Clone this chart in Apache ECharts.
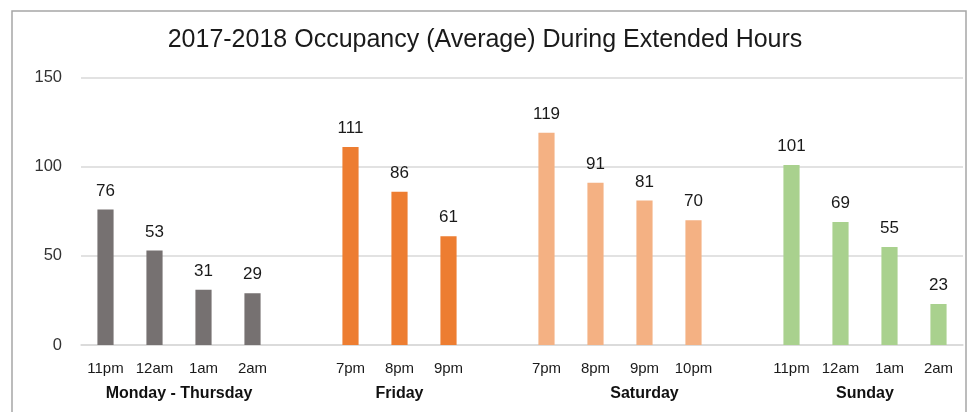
<!DOCTYPE html>
<html>
<head>
<meta charset="utf-8">
<script src="https://cdn.jsdelivr.net/npm/echarts@6/dist/echarts.min.js"></script>
<style>
  html, body { margin: 0; padding: 0; background: #fff; }
  #chart { width: 970px; height: 412px; }
</style>
</head>
<body>
<div id="chart"></div>
<script>
// categories (empty strings are the spacer slots between day groups)
var categories = ['11pm', '12am', '1am', '2am', '',
  '7pm', '8pm', '9pm', '',
  '7pm', '8pm', '9pm', '10pm', '',
  '11pm', '12am', '1am', '2am'];
var occupancy = [76, 53, 31, 29, null,
  111, 86, 61, null,
  119, 91, 81, 70, null,
  101, 69, 55, 23];
var yTicks = [0, 50, 100, 150];

// day groups: label + first/last category index
var groupNames = ['Monday - Thursday', 'Friday', 'Saturday', 'Sunday'];
var groupStart = [0, 5, 9, 14];
var groupEnd = [3, 7, 13, 17];
var groupColors = ['#767171', '#ED7D31', '#F4B183', '#A9D18E'];

var FONT = 'Liberation Sans, Arial, sans-serif';

function groupOf(i) {
  for (var g = 0; g < groupStart.length; g++) {
    if (i >= groupStart[g] && i <= groupEnd[g]) return g;
  }
  return 0;
}

var chart = echarts.init(document.getElementById('chart'));

chart.setOption({
  animation: false,
  title: {
    text: '2017-2018 Occupancy (Average) During Extended Hours',
    left: 'center',
    top: 23,
    textStyle: { fontFamily: FONT, fontSize: 25, fontWeight: 'normal', color: '#1a1a1a' }
  },
  grid: { left: 81, right: 7, top: 77.5, bottom: 67, containLabel: false },
  xAxis: {
    type: 'category',
    data: categories,
    axisLine: { lineStyle: { color: '#d9d9d9', width: 1.5 } },
    axisTick: { show: false },
    axisLabel: { interval: 0, margin: 16, fontFamily: FONT, fontSize: 15, color: '#1a1a1a' }
  },
  yAxis: {
    type: 'value',
    min: yTicks[0],
    max: yTicks[yTicks.length - 1],
    interval: yTicks[1] - yTicks[0],
    axisLine: { show: false },
    axisTick: { show: false },
    splitLine: { lineStyle: { color: '#d9d9d9', width: 1.5 } },
    axisLabel: { margin: 19, fontFamily: FONT, fontSize: 16.5, color: '#333' }
  },
  series: [{
    type: 'bar',
    data: occupancy,
    barWidth: '33%',
    itemStyle: {
      color: function (p) { return groupColors[groupOf(p.dataIndex)]; }
    },
    label: {
      show: true,
      position: 'top',
      distance: 10,
      fontFamily: FONT,
      fontSize: 17,
      color: '#1a1a1a'
    }
  }]
});

// chart border + group labels under the hour labels
function drawGroups() {
  var els = [{
    type: 'rect',
    shape: { x: 12, y: 11, width: 954, height: 420 },
    style: { fill: 'none', stroke: '#a6a6a6', lineWidth: 1.5 },
    silent: true
  }];
  var y = chart.convertToPixel({ yAxisIndex: 0 }, 0);
  groupNames.forEach(function (name, g) {
    var x0 = chart.convertToPixel({ xAxisIndex: 0 }, groupStart[g]);
    var x1 = chart.convertToPixel({ xAxisIndex: 0 }, groupEnd[g]);
    els.push({
      type: 'text',
      x: (x0 + x1) / 2,
      y: y + 49,
      style: {
        text: name,
        align: 'center',
        verticalAlign: 'middle',
        font: 'bold 16px ' + FONT,
        fill: '#111'
      },
      silent: true
    });
  });
  chart.setOption({ graphic: els });
}
drawGroups();
</script>
</body>
</html>
